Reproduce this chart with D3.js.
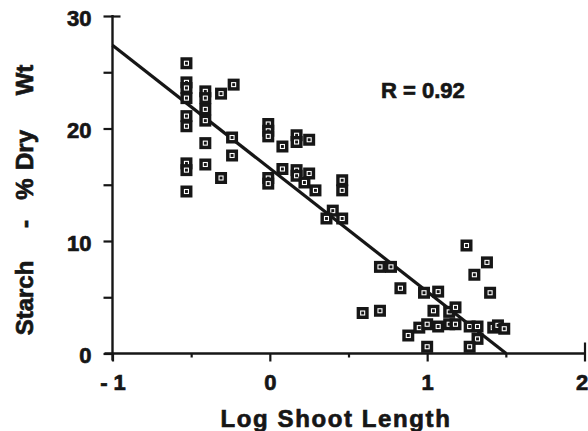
<!DOCTYPE html>
<html>
<head>
<meta charset="utf-8">
<script src="https://cdn.jsdelivr.net/npm/d3@7"></script>
<style>
  html, body { margin: 0; padding: 0; background: #fff; }
  svg { display: block; }
  text { font-family: "Liberation Sans", Arial, Helvetica, sans-serif; font-weight: bold; fill: #161616; stroke: #161616; stroke-width: 0.7px; }
</style>
</head>
<body>
<svg id="chart" width="588" height="431"></svg>
<script>
// ---- data ----
const logShootLength = [
  -0.53, -0.53, -0.53, -0.53, -0.53, -0.53, -0.53, -0.53, -0.53,
  -0.41, -0.41, -0.41, -0.41, -0.41, -0.41,
  -0.31, -0.23, -0.24, -0.24, -0.31,
  -0.01, -0.01, -0.01, 0.08, 0.17, 0.17, 0.25,
  0.08, 0.17, 0.17, 0.25, -0.01, -0.01, 0.22, 0.29,
  0.46, 0.46, 0.40, 0.36, 0.46,
  0.70, 0.77, 0.83, 0.59, 0.70,
  0.98, 1.07, 1.04, 1.14, 1.18,
  0.88, 0.95, 1.00, 1.07, 1.14, 1.18, 1.00,
  1.25, 1.38, 1.30, 1.40, 1.27, 1.32, 1.32, 1.27, 1.42, 1.45, 1.49
];
const starchPct = [
  25.8, 24.1, 23.6, 22.7, 21.1, 20.2, 16.9, 16.3, 14.4,
  23.3, 22.7, 21.7, 20.7, 18.7, 16.8,
  23.1, 23.9, 19.2, 17.6, 15.6,
  20.4, 19.8, 19.3, 18.4, 19.4, 18.8, 19.0,
  16.4, 16.3, 15.8, 16.0, 15.6, 15.1, 15.2, 14.5,
  15.4, 14.5, 12.7, 12.0, 12.0,
  7.7, 7.7, 5.8, 3.6, 3.8,
  5.4, 5.5, 3.8, 3.7, 4.1,
  1.6, 2.3, 2.6, 2.4, 2.6, 2.6, 0.6,
  9.6, 8.1, 7.0, 5.4, 2.4, 2.4, 1.3, 0.6, 2.3, 2.5, 2.2
];
const fitIntercept = 16.45;
const fitSlope = -10.95;
const rLabel = "R = 0.92";
const xTicks = [-1, -0.5, 0, 0.5, 1, 1.5, 2];
const xTickLabels = ["- 1", "", "0", "", "1", "", "2"];
const yTicks = [0, 5, 10, 15, 20, 25, 30];
const yTickLabels = ["0", "", "10", "", "20", "", "30"];
const xTitle = "Log Shoot Length";
const yTitleWords = ["Starch", "-", "%", "Dry", "Wt"];

// ---- chart ----
const svg = d3.select("#chart");
const x = d3.scaleLinear().domain([-1, 2]).range([112.5, 584.5]);
const y = d3.scaleLinear().domain([0, 30]).range([353.5, 16]);
const ink = "#161616";

// Y axis
const yAxis = d3.axisLeft(y)
  .tickValues(yTicks)
  .tickSize(9)
  .tickSizeOuter(0)
  .tickPadding(12)
  .tickFormat((d, i) => yTickLabels[i]);
const gy = svg.append("g").attr("transform", `translate(${x(-1)},0)`).call(yAxis);
gy.select(".domain").remove();
gy.selectAll(".tick line").attr("stroke", ink).attr("stroke-width", 2.2);
gy.selectAll(".tick text").attr("font-size", 22).attr("dy", "0.42em");
gy.selectAll(".tick").filter(d => d === 30).select("line").attr("x1", 8);

// X axis
const xAxis = d3.axisBottom(x)
  .tickValues(xTicks)
  .tickSize(8)
  .tickSizeOuter(0)
  .tickPadding(13)
  .tickFormat((d, i) => xTickLabels[i]);
const gx = svg.append("g").attr("transform", `translate(0,${y(0)})`).call(xAxis);
gx.select(".domain").remove();
gx.selectAll(".tick line").attr("stroke", ink).attr("stroke-width", 2.2)
  .attr("y2", d => (d % 1 === 0 ? 8 : 4));
gx.selectAll(".tick").filter(d => d === 2).select("line").attr("y1", -11);
gx.selectAll(".tick text").attr("font-size", 22);
gx.selectAll(".tick").filter(d => d === 2).select("text").attr("dx", -3);

// axis lines
svg.append("line")
  .attr("x1", x(-1)).attr("x2", x(-1))
  .attr("y1", y(30) - 1).attr("y2", y(0) + 7)
  .attr("stroke", ink).attr("stroke-width", 2.4);
svg.append("line")
  .attr("x1", x(-1) - 8).attr("x2", x(2) + 1)
  .attr("y1", y(0)).attr("y2", y(0))
  .attr("stroke", ink).attr("stroke-width", 2.4);

// regression line from x=-1 to where it crosses 0
const xEnd = -fitIntercept / fitSlope;
svg.append("line")
  .attr("x1", x(-1)).attr("y1", y(fitIntercept + fitSlope * -1))
  .attr("x2", x(xEnd)).attr("y2", y(fitIntercept + fitSlope * xEnd))
  .attr("stroke", ink).attr("stroke-width", 3.2);

// markers
const pts = logShootLength.map((v, i) => ({ x: v, y: starchPct[i] }));
const mk = svg.append("g").selectAll("g").data(pts).join("g")
  .attr("transform", d => `translate(${x(d.x)},${y(d.y)})`);
mk.append("rect").attr("x", -6).attr("y", -6).attr("width", 12).attr("height", 12)
  .attr("fill", ink);
mk.append("rect").attr("x", -2).attr("y", -2).attr("width", 4).attr("height", 4)
  .attr("fill", "none").attr("stroke", "#fff").attr("stroke-width", 1.1);

// R label
svg.append("text").attr("x", 381).attr("y", 98).attr("font-size", 22)
  .text(rLabel);

// X title
svg.append("text").attr("x", 336).attr("y", 427).attr("text-anchor", "middle")
  .attr("font-size", 24).attr("letter-spacing", "1.6px")
  .text(xTitle);

// Y title (words spaced as in reference)
const yWordCenters = [298, 224, 189, 150, 80];
svg.append("g").selectAll("text").data(yTitleWords).join("text")
  .attr("transform", (d, i) => `translate(33,${yWordCenters[i]}) rotate(-90)`)
  .attr("text-anchor", "middle").attr("font-size", 24)
  .text(d => d);
</script>
</body>
</html>
